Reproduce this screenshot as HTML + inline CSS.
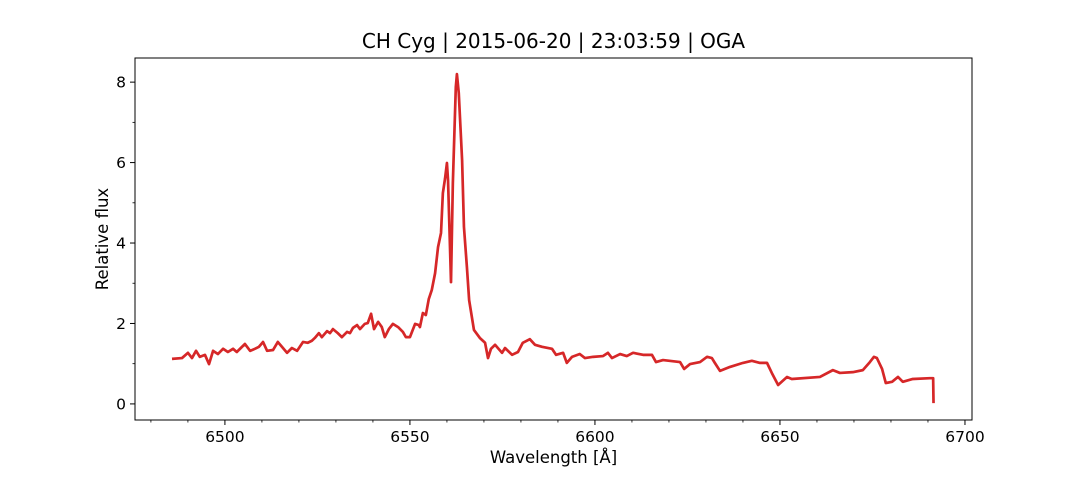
<!DOCTYPE html>
<html><head><meta charset="utf-8"><style>
body{margin:0;background:#fff;}
svg text{font-family:"DejaVu Sans","Liberation Sans",sans-serif;fill:#000;}
</style></head><body>
<svg id="chart" width="1080" height="480" xmlns="http://www.w3.org/2000/svg">
<rect width="1080" height="480" fill="#fff"/>
<text x="553.5" y="48" font-size="20" text-anchor="middle">CH Cyg | 2015-06-20 | 23:03:59 | OGA</text>
<g id="axes"></g>
<text x="553.5" y="463" font-size="16.5" text-anchor="middle">Wavelength [Å]</text>
<text transform="translate(108,239) rotate(-90)" font-size="16.5" text-anchor="middle">Relative flux</text>
</svg>
<script>
const wavelengths=[6485.7,6488.4,6490,6491.1,6492.2,6493.2,6494.6,6495.7,6496.8,6498.1,6499.5,6500.8,6502.2,6503.2,6505.4,6506.8,6508.1,6509.2,6510.3,6511.4,6513,6514.3,6515.4,6516.8,6518.1,6519.5,6521.1,6522.4,6523.5,6524.3,6525.4,6526.2,6527.6,6528.4,6529.2,6530.5,6531.6,6533,6533.8,6534.6,6535.7,6536.5,6537.8,6538.6,6539.5,6540.3,6541.4,6542.4,6543.2,6544.3,6545.4,6546.8,6548.1,6548.9,6550,6551.4,6552.4,6552.7,6553.5,6554.3,6555.1,6555.9,6556.8,6557.6,6558.4,6558.9,6559.5,6560,6560.3,6561.1,6561.6,6562.4,6562.7,6563.2,6564.1,6564.6,6565.4,6566,6567.3,6568.9,6570.3,6571.1,6571.9,6573,6574.9,6575.7,6577.6,6579.2,6580.5,6582.4,6583.8,6585.7,6588.4,6589.5,6591.4,6592.4,6593.8,6595.9,6597.3,6599.5,6602.2,6603.5,6604.6,6606.8,6608.6,6610.3,6613,6615.4,6616.5,6618.4,6623,6624.1,6625.7,6628.4,6630.3,6631.6,6632.4,6633.8,6636.5,6640,6642.4,6644.6,6646.5,6647.8,6649.5,6651.9,6653.2,6660.8,6664.3,6666.2,6669.7,6672.4,6674.3,6675.4,6676.2,6677.6,6678.6,6680.3,6681.9,6683.2,6685.9,6690.5,6691.4,6691.5];
const flux=[1.12,1.14,1.27,1.14,1.32,1.17,1.22,0.99,1.32,1.24,1.37,1.29,1.37,1.29,1.49,1.32,1.37,1.42,1.54,1.32,1.34,1.54,1.42,1.27,1.39,1.32,1.54,1.52,1.57,1.64,1.76,1.66,1.81,1.76,1.86,1.76,1.66,1.79,1.76,1.89,1.96,1.86,1.99,2.01,2.24,1.86,2.04,1.91,1.66,1.86,1.99,1.91,1.79,1.66,1.66,1.99,1.96,1.91,2.26,2.21,2.61,2.83,3.25,3.9,4.25,5.24,5.61,5.99,5.56,3.03,5.49,7.88,8.2,7.73,6.06,4.4,3.4,2.58,1.84,1.64,1.52,1.14,1.37,1.47,1.27,1.39,1.22,1.29,1.52,1.61,1.47,1.42,1.37,1.22,1.27,1.02,1.17,1.24,1.14,1.17,1.19,1.27,1.14,1.24,1.19,1.27,1.22,1.22,1.04,1.09,1.04,0.87,0.99,1.04,1.17,1.14,1.02,0.82,0.92,1.02,1.07,1.02,1.02,0.77,0.47,0.67,0.62,0.67,0.84,0.77,0.79,0.84,1.04,1.17,1.14,0.87,0.52,0.55,0.67,0.55,0.62,0.64,0.64,0.02];
const xTicks=[6500,6550,6600,6650,6700];
const yTicks=[0,2,4,6,8];
const X0=135,X1=972,Y0=58,Y1=420;
const xMin=6475.7,xMax=6701.9,yMin=-0.4,yMax=8.6;
const sx=v=>X0+(v-xMin)/(xMax-xMin)*(X1-X0);
const sy=v=>Y1-(v-yMin)/(yMax-yMin)*(Y1-Y0);
const NS='http://www.w3.org/2000/svg';
const g=document.getElementById('axes');
function mk(t,a){const e=document.createElementNS(NS,t);for(const k in a)e.setAttribute(k,a[k]);g.appendChild(e);return e;}
let d='';
wavelengths.forEach((w,i)=>{d+=(i?'L':'M')+sx(w).toFixed(2)+' '+sy(flux[i]).toFixed(2);});
const line=mk('path',{d:d,fill:'none',stroke:'#d62728','stroke-width':2.7,'stroke-linejoin':'round'});


for(let v=6480;v<=6700;v+=10){const x=sx(v);const maj=v%50===0;
 const t=mk('line',{x1:x,x2:x,y1:Y1,y2:Y1+(maj?5:2.5),stroke:'#000','stroke-width':maj?1:0.8});
 
 }
xTicks.forEach(v=>{const t=mk('text',{x:sx(v),y:Y1+22,'font-size':15.5,'text-anchor':'middle'});t.textContent=v;
 
 });
for(let v=0;v<=8;v+=1){const y=sy(v);const maj=v%2===0;
 const t=mk('line',{x1:X0,x2:X0-(maj?5:2.5),y1:y,y2:y,stroke:'#000','stroke-width':maj?1:0.8});
 
 }
yTicks.forEach(v=>{const t=mk('text',{x:X0-9,y:sy(v)+5.5,'font-size':15.5,'text-anchor':'end'});t.textContent=v;
 
 });
const fr=mk('rect',{x:X0,y:Y0,width:X1-X0,height:Y1-Y0,fill:'none',stroke:'#000','stroke-width':1});


</script>
</body></html>
